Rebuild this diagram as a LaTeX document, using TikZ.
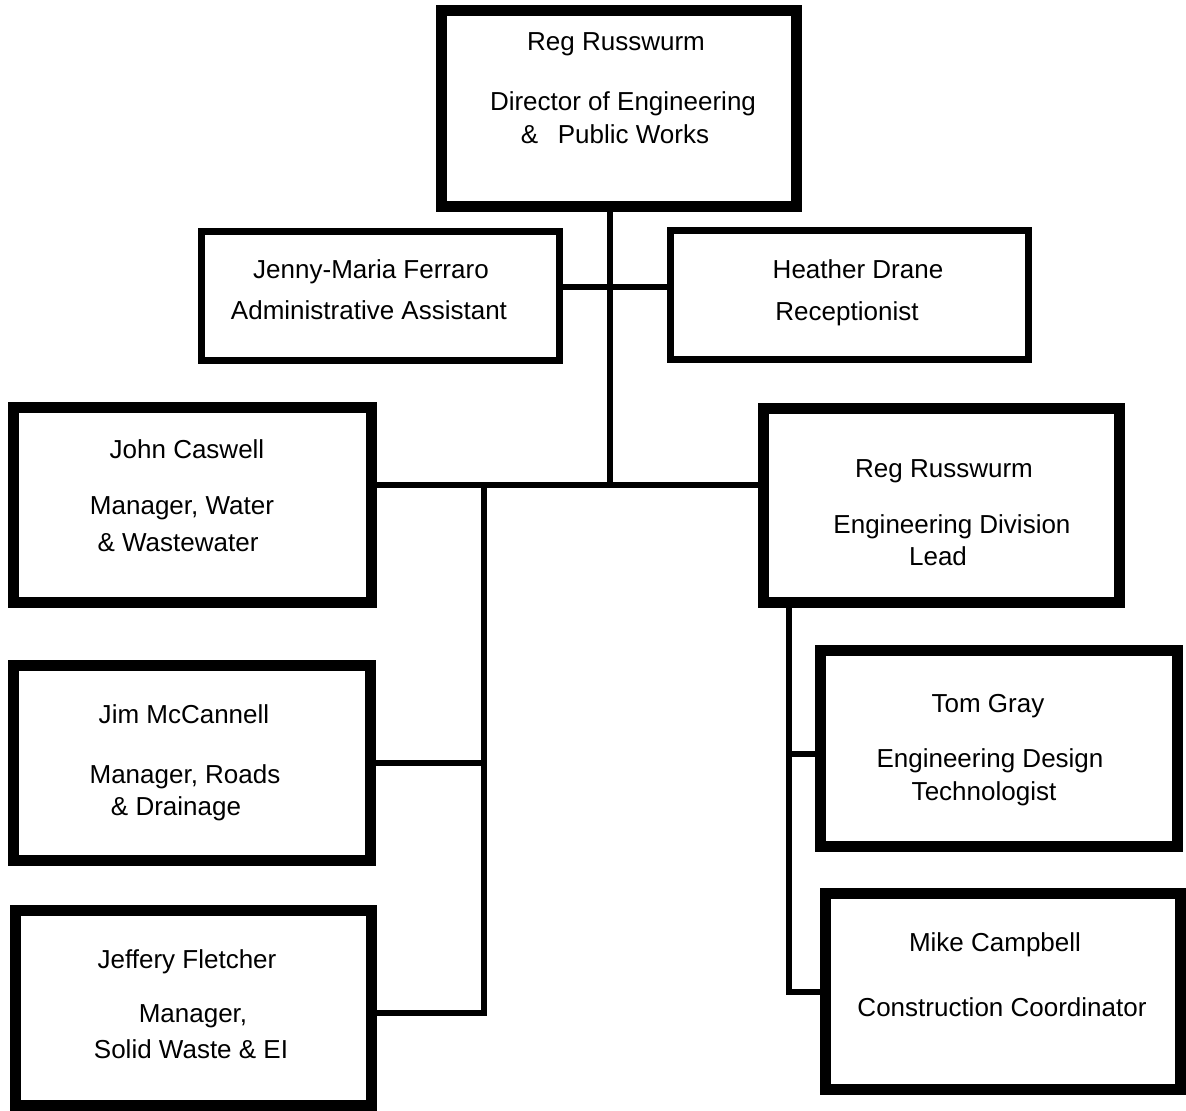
\documentclass[tikz,border=0pt]{standalone}
\usepackage{fontspec}
\setmainfont{Liberation Sans}

\tikzset{
  orgbox/.style={draw, rectangle, inner sep=0pt},
  boxsize/.style 2 args={minimum width=#1*0.02cm, minimum height=#2*0.02cm},
  lbl/.style={font=\fontsize{14.8}{18}\selectfont, inner sep=0pt, anchor=base},
  link/.style={line width=3.9pt, line join=miter}
}

\begin{document}
\begin{tikzpicture}[x=0.02cm, y=-0.02cm]
    \useasboundingbox (0,0) rectangle (1186,1110);

    % boxes: name/x/y/width/height/border (pt)
    \foreach \n/\x/\y/\w/\h/\b in {top/619/108.5/355/196/6.2, jenny/380.5/296/358/129/4.1, heather/849.5/295/358/129/4.1, john/192.5/505/358/195/6.2, reg/941.5/505.5/356/194/6.2, jim/192/763/357/195/6.2, jeff/193.5/1008/356/195/6.2, tom/999/748.5/357/196/6.2, mike/1003/991.5/355/196/6.2} {
      \node[orgbox, boxsize={\w}{\h}, line width=\b pt] (\n) at (\x,\y) {};
    }

    % texts: x/y(baseline)/text
    \foreach \x/\y/\t [count=\i] in {616/50/Reg Russwurm, 623/110/Director of Engineering, 615/143/\&\hspace{0.75em}Public Works,
      371/278/Jenny-Maria Ferraro, 369/319/Administrative Assistant,
      858/278/Heather Drane, 847/320/Receptionist,
      187/458/John Caswell, {182/514/Manager, Water}, 178/551/\& Wastewater,
      944/477/Reg Russwurm, 952/533/Engineering Division, 938/565/Lead,
      184/723/Jim McCannell, {185/783/Manager, Roads}, 176/815/\& Drainage,
      187/968/Jeffery Fletcher, {193/1022/Manager,}, 191/1058/Solid Waste \& EI,
      988/712/Tom Gray, 990/767/Engineering Design, 984/800/Technologist,
      995/951/Mike Campbell, 1002/1016/Construction Coordinator} {
      \node[lbl] (txt\i) at (\x,\y) {\t};
    }

    \coordinate (hub) at (610,485);
    \coordinate (desk) at (610,287);
    \coordinate (spine) at (484,1013);
    \coordinate (eng) at (789,992);
    \coordinate (engmid) at (789,754);

    \draw[link] (hub |- top.south) -- (hub);
    \draw[link] (desk -| jenny.east) -- (desk -| heather.west);
    \draw[link] (hub -| john.east) -- (hub -| reg.west);
    \draw[link] (spine |- hub) -- (spine) -- (spine -| jeff.east);
    \draw[link] (jim.east) -- (jim.east -| spine);
    \draw[link] (eng |- reg.south) -- (eng) -- (eng -| mike.west);
    \draw[link] (engmid) -- (engmid -| tom.west);
  \end{tikzpicture}
\end{document}
